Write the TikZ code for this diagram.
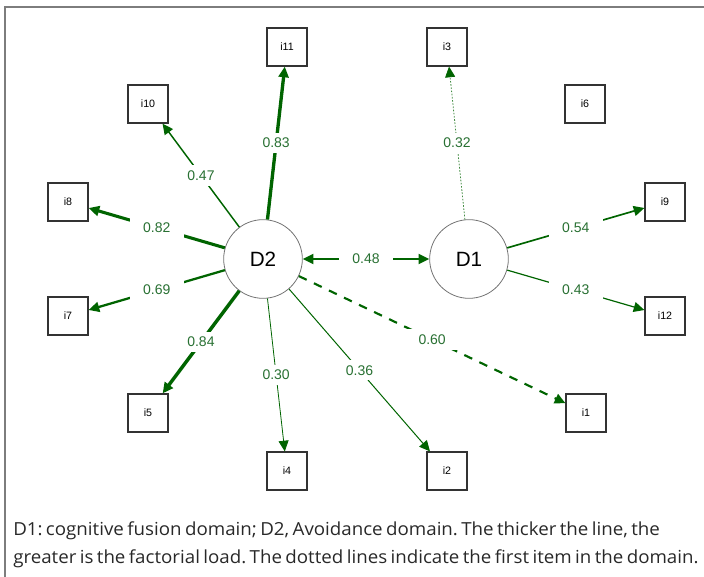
\documentclass[tikz,border=0pt]{standalone}
\usepackage{fontspec}
\usepackage{graphicx}
\setmainfont{Liberation Sans}
\newfontfamily\capfont[WordSpace=0.7]{Open Sans}
\usetikzlibrary{arrows.meta}
\definecolor{loadgreen}{RGB}{0,100,0}
\definecolor{numgreen}{RGB}{40,112,50}
\definecolor{framegray}{RGB}{125,125,125}
\definecolor{captext}{RGB}{40,40,40}
\frenchspacing
\begin{document}
\begin{tikzpicture}[x=0.75pt,y=-0.75pt,
  item/.style={draw=black!80, line width=0.9pt, fill=white,
    minimum width=30pt, minimum height=28.5pt, inner sep=0pt,
    font=\fontsize{8}{9}\selectfont},
  latent/.style={circle, draw=black!55, line width=0.6pt,
    minimum size=59pt, inner sep=0pt, font=\fontsize{15.5}{18}\selectfont},
  load/.style={draw=loadgreen, -{Triangle[length=8pt,width=7.5pt]}},
  lab/.style={fill=white, text=numgreen, inner xsep=10pt, inner ysep=4pt,
    font=\fontsize{10.5}{12}\selectfont},
  capline/.style={anchor=base west, inner sep=0pt, text=captext,
    font=\capfont\fontsize{13.5}{16}\selectfont}]
\useasboundingbox (0,0) rectangle (704,577);
% frame
\draw[framegray, line width=1.5pt] (5,577) -- (5,7) -- (704,7);

% latent domains
\node[latent] (D2) at (263,259) {D2};
\node[latent] (D1) at (469,259) {D1};

% observed items
\node[item] (i11) at (287,47) {i11};
\node[item] (i3) at (447,47) {i3};
\node[item] (i10) at (148,104) {i10};
\node[item] (i6) at (585,104) {i6};
\node[item] (i8) at (68,202) {i8};
\node[item] (i9) at (665,202) {i9};
\node[item] (i7) at (68,316) {i7};
\node[item] (i12) at (665,316) {i12};
\node[item] (i5) at (148,413) {i5};
\node[item] (i1) at (586,413) {i1};
\node[item] (i4) at (287,471) {i4};
\node[item] (i2) at (447,471) {i2};

% loadings of D2
\draw[load, line width=2.5pt] (D2) -- node[lab] {0.83} (i11);
\draw[load, line width=1.1pt] (D2) -- node[lab] {0.47} (i10);
\draw[load, line width=2.3pt] (D2) -- node[lab] {0.82} (i8);
\draw[load, line width=1.7pt] (D2) -- node[lab] {0.69} (i7);
\draw[load, line width=2.6pt] (D2) -- node[lab] {0.84} (i5);
\draw[load, line width=0.6pt] (D2) -- node[lab] {0.30} (i4);
\draw[load, line width=0.75pt] (D2) -- node[lab] {0.36} (i2);
\draw[load, line width=1.6pt, dash pattern=on 6.5pt off 6pt] (D2) -- node[lab] {0.60} (i1);

% loadings of D1
\draw[draw=loadgreen!75, line width=0.6pt, dash pattern=on 1.2pt off 1.2pt,
  -{Triangle[length=8pt,width=7.5pt,color=loadgreen]}] (D1) -- node[lab] {0.32} (i3);
\draw[load, line width=1.25pt] (D1) -- node[lab] {0.54} (i9);
\draw[load, line width=0.9pt] (D1) -- node[lab] {0.43} (i12);

% correlation between domains
\draw[load, {Triangle[length=8pt,width=7.5pt]}-{Triangle[length=8pt,width=7.5pt]}, line width=1.5pt]
  (D2) -- node[lab] {0.48} (D1);

% caption
\node[capline] (cap1) at (13,536) {\resizebox{485pt}{\height}{D1: cognitive fusion domain; D2, Avoidance domain. The thicker the line, the}};
\node[capline] (cap2) at (13,564) {\resizebox{514pt}{\height}{greater is the factorial load. The dotted lines indicate the first item in the domain.}};
\end{tikzpicture}
\end{document}
